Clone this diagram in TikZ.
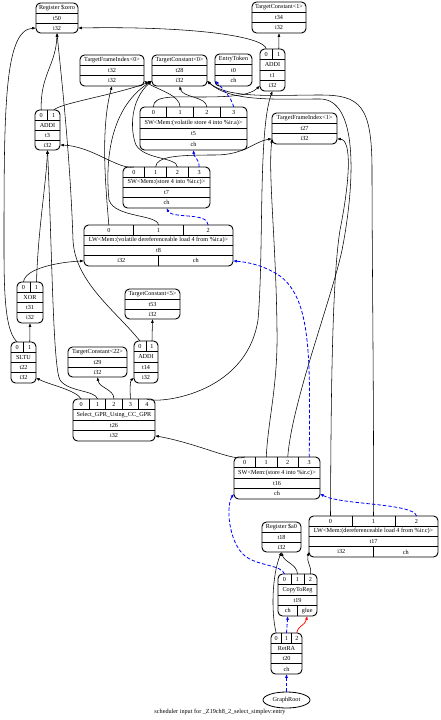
\documentclass[tikz,border=0pt]{standalone}
\usepackage{fontspec}
\setmainfont{Liberation Serif}
\usetikzlibrary{arrows.meta,shapes.geometric}

\newcommand{\dagrec}[9]{%
	\pgfmathsetmacro\rw{#4-#2}%
	\pgfmathtruncatemacro\nrow{#6>0 ? 4 : 3}%
	\pgfmathtruncatemacro\off{#6>0 ? 1 : 0}%
	\pgfmathtruncatemacro\nlast{\nrow-1}%
	\pgfmathsetmacro\rh{(#5-#3)/\nrow}%
	\node[recbox, minimum width={#4pt-#2pt}, minimum height={#5pt-#3pt}, anchor=north west] (#1) at (#2,#3) {};
	\foreach \kk in {1,...,\nlast} {\pgfmathsetmacro\yk{#3+\kk*\rh}\draw[recline] (#2,\yk) -- (#4,\yk);}
	\ifnum#6>0
		\pgfmathtruncatemacro\plast{#6-1}%
		\pgfmathsetmacro\pw{\rw/#6}%
		\foreach \ii in {0,...,\plast} {
			\pgfmathsetmacro\px{#2+(\ii+0.5)*\pw}
			\node[rectxt] at (\px,{#3+\rh/2}) {\ii};
			\coordinate (#1-p\ii) at (\px,#3);
			\ifnum\ii>0 \pgfmathsetmacro\dx{#2+\ii*\pw}\draw[recline] (\dx,#3) -- (\dx,{#3+\rh}); \fi
		}
	\fi
	\node[rectxt] at ({(#2+#4)/2},{#3+(\off+0.5)*\rh}) {#7};
	\node[rectxt] at ({(#2+#4)/2},{#3+(\off+1.5)*\rh}) {#8};
	\foreach \rlab [count=\jj] in {#9} {\xdef\nres{\jj}}
	\pgfmathsetmacro\resw{\rw/\nres}%
	\foreach \rlab [count=\jj from 0] in {#9} {
		\pgfmathsetmacro\rx{#2+(\jj+0.5)*\resw}
		\node[rectxt] at (\rx,{#5-\rh/2}) {\rlab};
		\coordinate (#1-r\jj) at (\rx,#5);
		\ifnum\jj>0 \pgfmathsetmacro\dx{#2+\jj*\resw}\draw[recline] (\dx,#5) -- (\dx,{#5-\rh}); \fi
	}
	\coordinate (#1-w) at (#2,{#5-\rh/2});
	\coordinate (#1-e) at (#4,{#5-\rh/2});
}

\begin{document}
\begin{tikzpicture}[x=1pt, y=-1pt,
			recbox/.style={draw, line width=0.9pt, rounded corners=4.5pt, inner sep=0pt, outer sep=0pt},
			recline/.style={line width=0.65pt},
			rectxt/.style={inner sep=0pt, font=\fontsize{6.2}{7}\selectfont},
			dat/.style={draw, line width=0.55pt, -{Latex[length=3.8pt,width=2.8pt]}},
			chn/.style={draw=blue, line width=0.8pt, dash pattern=on 3.5pt off 2pt, -{Latex[length=3.8pt,width=3pt]}},
			glu/.style={draw=red, line width=0.7pt, -{Latex[length=3.8pt,width=3pt]}}]
	\useasboundingbox (0,0) rectangle (440,720);
	\dagrec{zero}{36}{3}{78}{33}{0}{Register \$zero}{t50}{i32}
	\dagrec{cone}{252}{2}{306}{33}{0}{TargetConstant<1>}{t34}{i32}
	\dagrec{fizero}{80}{55}{144}{86}{0}{TargetFrameIndex<0>}{t32}{i32}
	\dagrec{czero}{152}{55}{207}{86}{0}{TargetConstant<0>}{t28}{i32}
	\dagrec{entry}{215}{54}{252}{86}{0}{EntryToken}{t0}{ch}
	\dagrec{addione}{260}{49}{285}{91}{2}{ADDI}{t1}{i32}
	\dagrec{swa}{140}{107}{247}{150}{4}{SW<Mem:(volatile store 4 into \%ir.a)>}{t5}{ch}
	\dagrec{fione}{272}{113}{337}{144}{0}{TargetFrameIndex<1>}{t27}{i32}
	\dagrec{addizero}{35}{110}{60}{150}{2}{ADDI}{t3}{i32}
	\dagrec{swc}{123}{167}{210}{208}{4}{SW<Mem:(store 4 into \%ir.c)>}{t7}{ch}
	\dagrec{lwa}{84}{225}{233}{266}{3}{LW<Mem:(volatile dereferenceable load 4 from \%ir.a)>}{t8}{i32,ch}
	\dagrec{xor}{17}{282}{43}{323}{2}{XOR}{t31}{i32}
	\dagrec{cfive}{125}{289}{180}{319}{0}{TargetConstant<5>}{t53}{i32}
	\dagrec{sltu}{11}{342}{36}{383}{2}{SLTU}{t22}{i32}
	\dagrec{ccc}{68}{347}{127}{377}{0}{TargetConstant<22>}{t29}{i32}
	\dagrec{addifive}{134}{341}{158}{383}{2}{ADDI}{t14}{i32}
	\dagrec{select}{73}{399}{155}{441}{5}{Select\_GPR\_Using\_CC\_GPR}{t26}{i32}
	\dagrec{swcc}{234}{457}{320}{499}{4}{SW<Mem:(store 4 into \%ir.c)>}{t16}{ch}
	\dagrec{lwc}{309}{516}{438}{557}{3}{LW<Mem:(dereferenceable load 4 from \%ir.c)>}{t17}{i32,ch}
	\dagrec{azero}{262}{522}{301}{552}{0}{Register \$a0}{t18}{i32}
	\dagrec{copy}{278}{574}{317}{616}{3}{CopyToReg}{t19}{ch,glue}
	\dagrec{ret}{271}{633}{302}{674}{3}{RetRA}{t20}{ch}
	\node[draw, ellipse, line width=0.8pt, minimum width=47pt, minimum height=16pt, inner sep=0pt, font=\fontsize{6.2}{7}\selectfont] (root) at (286.5,700) {GraphRoot};
	\node[rectxt] (caption) at (220,712) {scheduler input for \_Z19ch8\_2\_select\_simplev:entry};

	\draw[dat] (addione-p0) .. controls (264,36) and (190,26) .. (zero-e);
	\draw[dat] (addione-p1) -- (cone-r0);
	\draw[dat] (swa-p0) .. controls (153,95) and (175,97) .. (200,97) .. controls (235,97) and (250,95) .. (addione-w);
	\draw[dat] (swa-p1) .. controls (180,95) and (158,90) .. (fizero-e);
	\draw[dat] (swa-p2) .. controls (206,96) and (183,98) .. (czero-r0);
	\draw[dat] (addizero-p0) .. controls (40,75) and (56,65) .. (zero-r0);
	\draw[dat] (addizero-p1) .. controls (60,103) and (120,94) .. (czero-w);
	\draw[dat] (swc-p0) .. controls (118,170) and (92,146) .. (addizero-e);
	\draw[dat] (swc-p1) .. controls (156,156) and (180,155) .. (215,155) .. controls (245,155) and (255,141) .. (fione-w);
	\draw[dat] (swc-p2) .. controls (177,157) and (145,160) .. (136,145) .. controls (130,130) and (130,100) .. (czero-w);
	\draw[dat] (lwa-p0) .. controls (106,190) and (100,130) .. (fizero-r0);
	\draw[dat] (lwa-p1) .. controls (157,214) and (115,218) .. (109,200) .. controls (106,170) and (106,110) .. (czero-w);
	\draw[dat] (xor-p0) .. controls (25,268) and (60,262) .. (lwa-w);
	\draw[dat] (xor-p1) .. controls (38,230) and (46,185) .. (addizero-r0);
	\draw[dat] (sltu-p0) .. controls (6,332) and (4,300) .. (4,250) .. controls (4,110) and (4,30) .. (zero-w);
	\draw[dat] (sltu-p1) -- (xor-r0);
	\draw[dat] (addifive-p0) .. controls (115,310) and (75,282) .. (73,240) .. controls (70,150) and (60,65) .. (zero-r0);
	\draw[dat] (addifive-p1) -- (cfive-r0);
	\draw[dat] (select-p0) .. controls (76,390) and (50,385) .. (sltu-e);
	\draw[dat] (select-p1) .. controls (95,390) and (68,392) .. (60,380) .. controls (53,368) and (52,250) .. (addizero-r0);
	\draw[dat] (select-p2) .. controls (114,389) and (99,388) .. (ccc-r0);
	\draw[dat] (select-p3) .. controls (130,389) and (130,381) .. (addifive-w);
	\draw[dat] (select-p4) .. controls (156,404) and (246,396) .. (258,320) .. controls (264,250) and (258,130) .. (addione-r0);
	\draw[dat] (swcc-p0) .. controls (234,462) and (200,444) .. (select-e);
	\draw[dat] (swcc-p1) .. controls (268,420) and (278,385) .. (277,330) .. controls (276,240) and (268,175) .. (fione-w);
	\draw[dat] (swcc-p2) .. controls (292,400) and (335,290) .. (343,245) .. controls (355,180) and (358,99) .. (320,99) .. controls (275,99) and (230,102) .. (czero-e);
	\draw[dat] (lwc-p0) .. controls (331,400) and (332,280) .. (340,230) .. controls (350,180) and (352,140) .. (fione-e);
	\draw[dat] (lwc-p1) .. controls (374,420) and (372,250) .. (372,170) .. controls (372,105) and (360,95) .. (320,95) .. controls (275,95) and (228,99) .. (czero-e);
	\draw[dat] (copy-p1) .. controls (297,564) and (284,562) .. (azero-r0);
	\draw[dat] (copy-p2) .. controls (312,566) and (306,562) .. (lwc-w);
	\draw[dat] (ret-p0) .. controls (271,612) and (272,575) .. (azero-r0);
	\draw[chn] (swa-p3) .. controls (232,98) and (222,88) .. (entry-w);
	\draw[chn] (swc-p3) .. controls (199,158) and (194,158) .. (swa-r0);
	\draw[chn] (lwa-p2) .. controls (208,212) and (172,219) .. (swc-r0);
	\draw[chn] (swcc-p3) .. controls (310,360) and (312,300) .. (280,276) .. controls (262,264) and (245,262) .. (lwa-e);
	\draw[chn] (lwc-p2) .. controls (414,503) and (340,505) .. (swcc-e);
	\draw[chn] (copy-p0) .. controls (282,565) and (258,566) .. (245,556) .. controls (228,542) and (226,505) .. (swcc-w);
	\draw[chn] (ret-p1) -- (copy-r0);
	\draw[chn] (root) -- (ret-r0);
	\draw[glu] (ret-p2) .. controls (298,625) and (305,626) .. (copy-r1);
\end{tikzpicture}
\end{document}
